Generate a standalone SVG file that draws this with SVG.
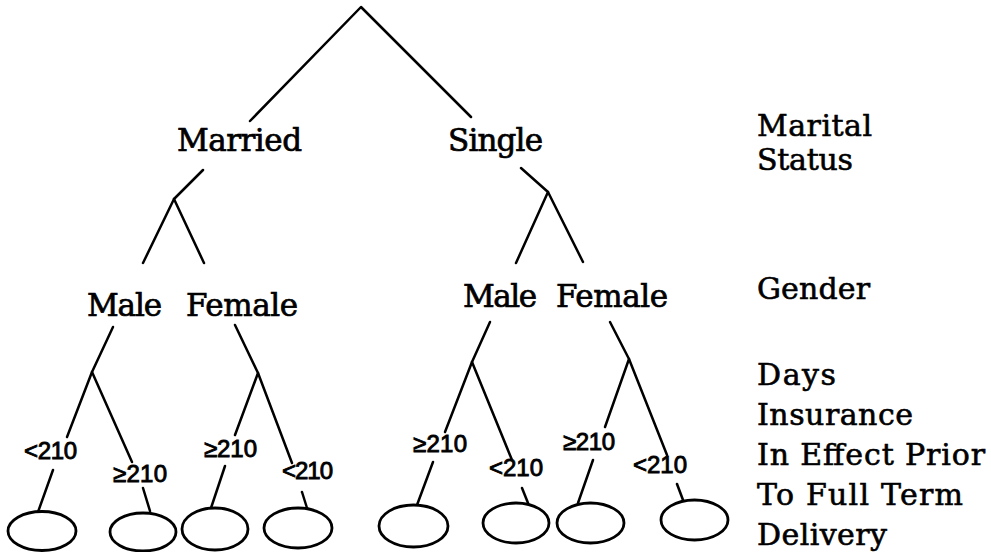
<svg xmlns="http://www.w3.org/2000/svg" width="991" height="552" viewBox="0 0 991 552">
  <style>
    .edge { fill: none; stroke: #000; stroke-width: 2.5; stroke-linecap: round; stroke-linejoin: round; }
    .leaf { fill: #fff; stroke: #000; stroke-width: 2.8; }
    .node { font-family: "DejaVu Serif", "Liberation Serif", serif; font-size: 31px; fill: #000; stroke: #000; stroke-width: 0.7; }
    .level { font-family: "DejaVu Serif", "Liberation Serif", serif; font-size: 30px; fill: #000; stroke: #000; stroke-width: 0.6; }
    .cut { font-family: "Liberation Sans", "DejaVu Sans", sans-serif; font-size: 24px; fill: #000; stroke: #000; stroke-width: 0.9; }
  </style>
  <rect width="991" height="552" fill="#fff"/>

  <!-- branches of the tree -->
  <g id="connectors">
    <!-- root split on marital status -->
    <polyline class="edge" points="250,121 361,7 471,117"/>
    <!-- married split on gender -->
    <polyline class="edge" points="203,170 174,199 143,263"/>
    <line class="edge" x1="174" y1="199" x2="204" y2="263"/>
    <!-- single split on gender -->
    <polyline class="edge" points="521,168 548,192 516,263"/>
    <line class="edge" x1="548" y1="192" x2="583" y2="262"/>
    <!-- married / male -->
    <polyline class="edge" points="113,327 92,372 67,437"/>
    <line class="edge" x1="92" y1="372" x2="132" y2="462"/>
    <line class="edge" x1="53" y1="470" x2="38" y2="512"/>
    <line class="edge" x1="143" y1="488" x2="150" y2="511"/>
    <!-- married / female -->
    <polyline class="edge" points="235,325 258,373 235,435"/>
    <line class="edge" x1="258" y1="373" x2="292" y2="463"/>
    <line class="edge" x1="225" y1="466" x2="211" y2="508"/>
    <line class="edge" x1="302" y1="492" x2="307" y2="508"/>
    <!-- single / male -->
    <polyline class="edge" points="490,322 472,362 445,432"/>
    <line class="edge" x1="472" y1="362" x2="512" y2="460"/>
    <line class="edge" x1="433" y1="462" x2="417" y2="505"/>
    <line class="edge" x1="522" y1="488" x2="528" y2="503"/>
    <!-- single / female -->
    <polyline class="edge" points="610,322 629,359 605,427"/>
    <line class="edge" x1="629" y1="359" x2="667" y2="455"/>
    <line class="edge" x1="593" y1="460" x2="578" y2="503"/>
    <line class="edge" x1="677" y1="484" x2="683" y2="500"/>

    <!-- day thresholds on the lowest branches -->
    <text class="cut" x="24" y="459" textLength="53">&lt;210</text>
    <text class="cut" x="113" y="482" textLength="54">≥210</text>
    <text class="cut" x="204" y="457" textLength="53">≥210</text>
    <text class="cut" x="282" y="479" textLength="51">&lt;210</text>
    <text class="cut" x="413" y="452" textLength="54">≥210</text>
    <text class="cut" x="489" y="476" textLength="54">&lt;210</text>
    <text class="cut" x="563" y="450" textLength="52">≥210</text>
    <text class="cut" x="633" y="473" textLength="54">&lt;210</text>
  </g>

  <!-- marital status -->
  <g id="married"><text class="node" x="177" y="151" textLength="125">Married</text></g>
  <g id="single"><text class="node" x="448" y="151" textLength="95">Single</text></g>

  <!-- gender -->
  <g id="married-male"><text class="node" x="87" y="316" textLength="75">Male</text></g>
  <g id="married-female"><text class="node" x="186" y="316" textLength="112">Female</text></g>
  <g id="single-male"><text class="node" x="463" y="307" textLength="74">Male</text></g>
  <g id="single-female"><text class="node" x="556" y="307" textLength="112">Female</text></g>

  <!-- leaves -->
  <g id="leaf-1"><ellipse class="leaf" cx="42" cy="531" rx="34" ry="19.5"/></g>
  <g id="leaf-2"><ellipse class="leaf" cx="143" cy="532" rx="33" ry="19"/></g>
  <g id="leaf-3"><ellipse class="leaf" cx="215" cy="529" rx="33" ry="21"/></g>
  <g id="leaf-4"><ellipse class="leaf" cx="298" cy="528" rx="34" ry="20"/></g>
  <g id="leaf-5"><ellipse class="leaf" cx="413.5" cy="526" rx="34.5" ry="21"/></g>
  <g id="leaf-6"><ellipse class="leaf" cx="516" cy="523" rx="33" ry="20"/></g>
  <g id="leaf-7"><ellipse class="leaf" cx="590.5" cy="523" rx="33.5" ry="20"/></g>
  <g id="leaf-8"><ellipse class="leaf" cx="694.5" cy="520" rx="33.5" ry="20"/></g>

  <!-- level captions -->
  <g id="levels">
    <text class="level" x="757" y="136" textLength="115">Marital</text>
    <text class="level" x="757" y="170" textLength="96">Status</text>
    <text class="level" x="757" y="299" textLength="113">Gender</text>
    <text class="level" x="757" y="385" textLength="79">Days</text>
    <text class="level" x="757" y="425" textLength="156">Insurance</text>
    <text class="level" x="757" y="465" textLength="228">In Effect Prior</text>
    <text class="level" x="757" y="505" textLength="206">To Full Term</text>
    <text class="level" x="757" y="545" textLength="130">Delivery</text>
  </g>
</svg>
